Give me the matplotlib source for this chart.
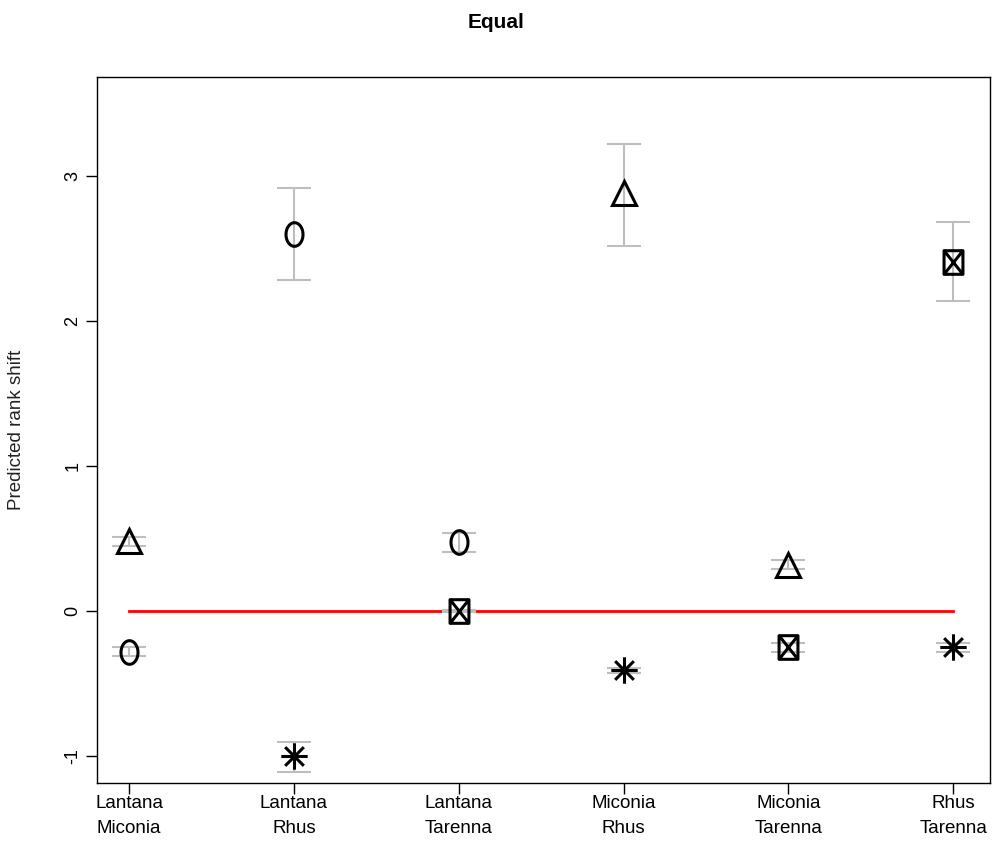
import numpy as np
import matplotlib.pyplot as plt
from matplotlib.path import Path

plt.rcParams['font.family'] = ['Liberation Sans', 'DejaVu Sans']

pairs = ['Lantana\nMiconia', 'Lantana\nRhus', 'Lantana\nTarenna',
         'Miconia\nRhus', 'Miconia\nTarenna', 'Rhus\nTarenna']

# each symbol series: pair index, estimate, lower, upper
circ_x = [1, 2, 3]
circ_y = [-0.28, 2.60, 0.475]
circ_lo = [-0.31, 2.28, 0.41]
circ_hi = [-0.25, 2.92, 0.54]

tri_x = [1, 4, 5]
tri_y = [0.48, 2.88, 0.32]
tri_lo = [0.45, 2.52, 0.29]
tri_hi = [0.51, 3.22, 0.35]

box_x = [3, 5, 6]
box_y = [0.0, -0.25, 2.41]
box_lo = [-0.01, -0.28, 2.14]
box_hi = [0.01, -0.22, 2.68]

star_x = [2, 4, 6]
star_y = [-1.0, -0.41, -0.25]
star_lo = [-1.11, -0.43, -0.28]
star_hi = [-0.90, -0.39, -0.22]

# marker shapes like R's pch 1, 7, 8
t = np.linspace(0, 2 * np.pi, 60)
ellipse = Path(np.column_stack([0.36 * np.cos(t), 0.5 * np.sin(t)]), closed=True)
bx = [(-0.4, -0.5), (0.4, -0.5), (0.4, 0.5), (-0.4, 0.5), (-0.4, -0.5),
      (-0.4, -0.5), (0.4, 0.5), (0.4, -0.5), (-0.4, 0.5)]
box_cross = Path(bx, [Path.MOVETO, Path.LINETO, Path.LINETO, Path.LINETO, Path.CLOSEPOLY,
                      Path.MOVETO, Path.LINETO, Path.MOVETO, Path.LINETO])
s = 0.5
d = 0.5 * 0.707
sv = [(-s, 0), (s, 0), (0, -s), (0, s), (-d, -d), (d, d), (-d, d), (d, -d)]
star = Path(sv, [Path.MOVETO, Path.LINETO] * 4)

fig = plt.figure(figsize=(9.92, 8.46), dpi=100)
ax = fig.add_axes([0.098, 0.0745, 0.9, 0.8345])

series = [
    (circ_x, circ_y, circ_lo, circ_hi, ellipse, 17),
    (tri_x, tri_y, tri_lo, tri_hi, '^', 17),
    (box_x, box_y, box_lo, box_hi, box_cross, 17),
    (star_x, star_y, star_lo, star_hi, star, 19),
]
for xs, ys, lo, hi, mk, ms in series:
    ys = np.array(ys)
    err = [ys - np.array(lo), np.array(hi) - ys]
    ax.errorbar(xs, ys, yerr=err, fmt='none', ecolor='#bebebe', elinewidth=1.5,
                capsize=12, capthick=1.5, zorder=2)
    ax.plot(xs, ys, linestyle='none', marker=mk, markersize=ms,
            markerfacecolor='none', markeredgecolor='black', markeredgewidth=2.2, zorder=3)

ax.plot([1, 6], [0, 0], color='red', linewidth=2, zorder=1)

ax.set_xlim(0.806, 6.224)
ax.set_ylim(-1.186, 3.683)
ax.set_xticks(range(1, 7))
ax.set_xticklabels(pairs, fontsize=13.5, linespacing=1.6)
ax.set_yticks([-1, 0, 1, 2, 3])
ax.set_yticklabels(['-1', '0', '1', '2', '3'], rotation=90, va='center', fontsize=13)
ax.tick_params(direction='out', length=8, width=1)
ax.tick_params(axis='x', pad=1)
for sp in ax.spines.values():
    sp.set_linewidth(1)
ax.set_ylabel('Predicted rank shift', fontsize=13.5, labelpad=28, color='#222222')
fig.suptitle('Equal', fontsize=15, fontweight='bold', y=0.985)

fig.savefig('out.png', dpi=100)
